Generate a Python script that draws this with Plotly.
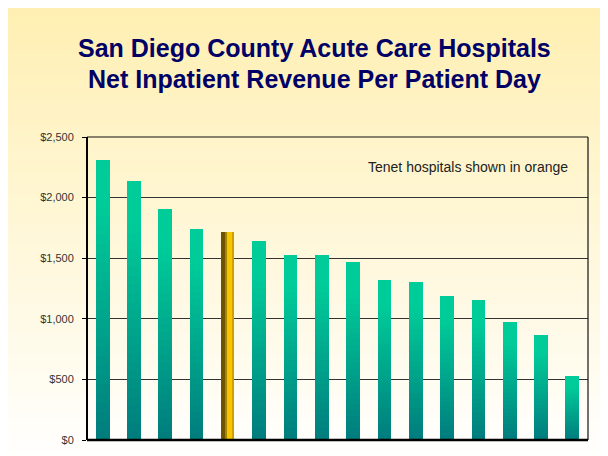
import plotly.graph_objects as go

# ---- data ----
hospitals = [f"Hospital {i}" for i in range(1, 17)]
revenue_per_day = [2310, 2140, 1910, 1740, 1715, 1640, 1530, 1530,
                   1465, 1320, 1305, 1190, 1155, 970, 870, 530]
is_tenet = [False, False, False, False, True, False, False, False,
            False, False, False, False, False, False, False, False]
y_ticks = [0, 500, 1000, 1500, 2000, 2500]
y_tick_labels = ["$0", "$500", "$1,000", "$1,500", "$2,000", "$2,500"]
title_lines = ["San Diego County Acute Care Hospitals",
               "Net Inpatient Revenue Per Patient Day"]
note_text = "Tenet hospitals shown in orange"
source_text = "SOURCE: 2004 data"

# page is rendered with an 8px body offset; all pixel positions below are figure px
OFF = 8
W, H = 608, 456
ML, MT = 87 - OFF, 137 - OFF
MR = W - (588 - OFF)
MB = H - (439.7 - OFF)
FONT = "Liberation Sans, Arial, sans-serif"
PW = W - ML - MR
PH = H - MT - MB

def px2x(px):      # page px -> paper x
    return (px - OFF - ML) / PW

def py2y(py):      # page px -> paper y
    return (H - MB - (py - OFF)) / PH

xs = list(range(len(hospitals)))
fig = go.Figure()

# teal bars with vertical gradient (stacked overlays, proportional to each bar)
N = 30
dark = (0, 126, 126)
bright = (0, 204, 153)
for k in range(N, 0, -1):
    t = (k - 1) / (N - 1)
    t = min(1.0, t / 0.85)
    c = tuple(round(dark[i] + (bright[i] - dark[i]) * t) for i in range(3))
    fig.add_trace(go.Bar(
        x=xs,
        y=[None if ten else v * k / N for v, ten in zip(revenue_per_day, is_tenet)],
        marker=dict(color=f"rgb{c}", line=dict(width=0)),
        width=0.44, hoverinfo="skip", showlegend=False))

# Tenet (orange) bar, cylindrical shading
tenet_vals = [v if ten else None for v, ten in zip(revenue_per_day, is_tenet)]
for width, offset, color in [(0.42, -0.21, "#CFA000"),
                             (0.14, -0.21, "#6E5300"),
                             (0.05, -0.07, "#A88200"),
                             (0.17, -0.03, "#F7C600")]:
    fig.add_trace(go.Bar(x=xs, y=tenet_vals, width=width, offset=offset,
                         marker=dict(color=color, line=dict(width=0)),
                         hoverinfo="skip", showlegend=False))

# background gradient (yellow top -> white bottom)
shapes = []
top_c = (255, 239, 178)
bot_c = (255, 255, 255)
bands = 80
for i in range(bands):
    y0 = 5 + (H + OFF - 5) * i / bands
    y1 = 5 + (H + OFF - 5) * (i + 1) / bands + 0.6
    t = (i + 0.5) / bands
    c = tuple(round(top_c[j] + (bot_c[j] - top_c[j]) * t) for j in range(3))
    shapes.append(dict(type="rect", xref="paper", yref="paper",
                       x0=px2x(6), x1=px2x(600), y0=py2y(y1), y1=py2y(y0),
                       fillcolor=f"rgb{c}", line=dict(width=0), layer="below"))

# plot frame
shapes += [
    dict(type="line", xref="paper", yref="paper", x0=0, x1=1, y0=1, y1=1,
         line=dict(color="#111", width=1)),
    dict(type="line", xref="paper", yref="paper", x0=1, x1=1, y0=0, y1=1,
         line=dict(color="#111", width=1.2)),
    dict(type="line", xref="paper", yref="paper", x0=0, x1=0, y0=0, y1=1,
         line=dict(color="#000", width=2)),
    dict(type="line", xref="paper", yref="paper", x0=0, x1=1, y0=0, y1=0,
         line=dict(color="#000", width=2.5)),
]

annotations = [
    dict(text=f"<b>{title_lines[0]}</b>", xref="paper", yref="paper",
         x=px2x(314), y=py2y(48), showarrow=False,
         font=dict(family=FONT, size=25, color="#000066"),
         xanchor="center", yanchor="middle"),
    dict(text=f"<b>{title_lines[1]}</b>", xref="paper", yref="paper",
         x=px2x(314), y=py2y(79), showarrow=False,
         font=dict(family=FONT, size=25, color="#000066"),
         xanchor="center", yanchor="middle"),
    dict(text=note_text, xref="paper", yref="paper",
         x=px2x(570), y=py2y(167), showarrow=False,
         font=dict(family=FONT, size=14, color="#222"),
         xanchor="right", yanchor="middle"),
    dict(text=source_text, xref="paper", yref="paper",
         x=px2x(486), y=py2y(452), showarrow=False,
         font=dict(family=FONT, size=11, color="#111"),
         xanchor="left", yanchor="top"),
]

fig.update_layout(
    width=W, height=H,
    margin=dict(l=ML, r=MR, t=MT, b=MB, pad=0),
    paper_bgcolor="white", plot_bgcolor="rgba(0,0,0,0)",
    barmode="overlay", bargap=0,
    showlegend=False,
    shapes=shapes, annotations=annotations,
    xaxis=dict(range=[-0.5, len(hospitals) - 0.5], showticklabels=False,
               showgrid=False, zeroline=False, showline=False, ticks=""),
    yaxis=dict(range=[0, 2500], tickmode="array", tickvals=y_ticks,
               ticktext=y_tick_labels, showgrid=True, gridcolor="#333",
               gridwidth=1, zeroline=False, showline=False,
               ticks="outside", ticklen=4, tickcolor="#000", tickwidth=1,
               tickfont=dict(family=FONT, size=11, color="#333"),
               ticklabelstandoff=6),
)

fig.write_html("out.html")
